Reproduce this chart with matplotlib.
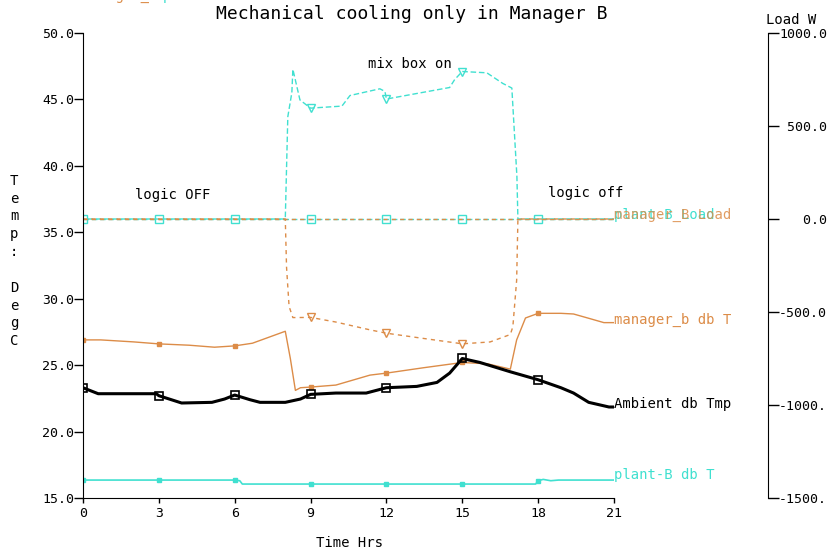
import numpy as np
import matplotlib
matplotlib.use("Agg")
from matplotlib import pyplot as plt

ORANGE = "#dc8c48"
CYAN = "#40e0d0"
MONO = "DejaVu Sans Mono"

# hours and temperatures (degC), left axis
amb_hrs = [0, 0.6, 2.9, 3, 3.9, 5.1, 5.6, 6, 6.6, 7.0, 8.0, 8.6, 9, 10.0, 11.2, 12,
           13.2, 14.0, 14.5, 15, 15.7, 16.9, 18, 18.9, 19.4, 20.0, 20.8, 21]
amb_temp = [23.3, 22.85, 22.85, 22.7, 22.15, 22.2, 22.45, 22.75, 22.4, 22.2, 22.2, 22.45,
            22.8, 22.9, 22.9, 23.3, 23.4, 23.7, 24.4, 25.5, 25.2, 24.5, 23.9, 23.3,
            22.9, 22.2, 21.85, 21.85]

mgr_hrs = [0, 0.7, 2.0, 3, 4.2, 5.2, 6, 6.7, 8.0, 8.2, 8.4, 8.6, 9, 10.0, 11.35, 12,
           13.45, 15, 16.0, 16.9, 17.15, 17.5, 18, 18.9, 19.4, 20.05, 20.6, 21]
mgr_temp = [26.9, 26.9, 26.75, 26.6, 26.5, 26.35, 26.45, 26.65, 27.55, 25.5, 23.1, 23.3,
            23.35, 23.5, 24.25, 24.4, 24.8, 25.2, 25.1, 24.7, 26.9, 28.55, 28.9, 28.9,
            28.85, 28.5, 28.2, 28.2]

plant_hrs = [0, 3, 6, 6.2, 6.3, 9, 12, 15, 17.9, 18, 18.2, 18.5, 18.8, 21]
plant_temp = [16.35, 16.35, 16.35, 16.3, 16.05, 16.05, 16.05, 16.05, 16.05, 16.3, 16.4,
              16.3, 16.35, 16.35]

# loads (W), right axis
pload_hrs = [0, 3, 6, 8.0, 8.1, 8.26, 8.3, 8.58, 9, 10.24, 10.56, 11.74, 11.94, 12,
             14.5, 14.7, 15, 15.97, 16.6, 16.96, 17.04, 17.16, 17.2, 18, 21]
pload = [0, 0, 0, 0, 550, 680, 805, 640, 596, 607, 664, 700, 686, 645, 707, 750, 793,
         786, 729, 704, 514, 229, 0, 0, 0]

mload_hrs = [0, 3, 6, 8.0, 8.05, 8.15, 8.3, 9, 10.0, 11.35, 12, 13.3, 15, 16.1, 16.9,
             17.0, 17.15, 17.2, 18, 21]
mload = [0, 0, 0, 0, -260, -470, -530, -529, -554, -596, -614, -639, -671, -661, -621,
         -579, -329, 0, 0, 0]

zero_hrs = [0, 3, 6, 9, 12, 15, 18, 21]
zero_load = [0, 0, 0, 0, 0, 0, 0, 0]

x_ticks = [0, 3, 6, 9, 12, 15, 18, 21]
t_ticks = [15, 20, 25, 30, 35, 40, 45, 50]
w_ticks = [1000, 500, 0, -500, -1000, -1500]
w_labels = ["1000.0", " 500.0", "   0.0", "-500.0", "-1000.", "-1500."]


def marks(hrs, at):
    return [i for i, h in enumerate(hrs) if h in at]


fig = plt.figure(figsize=(8.29, 5.55), dpi=100)
ax = fig.add_axes([83 / 829, 57 / 555, 531 / 829, 465 / 555])
ax2 = ax.twinx()

every3 = [0, 3, 6, 9, 12, 15, 18]

# load traces on the right axis
ax2.plot(zero_hrs, zero_load, color=CYAN, lw=1, ls=(0, (4, 2)), marker="s", ms=6,
         mfc="none", markevery=marks(zero_hrs, every3), zorder=2)
ax2.plot(pload_hrs, pload, color=CYAN, lw=1, ls=(3, (4, 2)), marker="v", ms=6,
         mfc="none", markevery=marks(pload_hrs, [9, 12, 15]), zorder=2)
ax2.plot(zero_hrs, zero_load, color=ORANGE, lw=1, ls=(0, (3, 3)), zorder=3)
ax2.plot(mload_hrs, mload, color=ORANGE, lw=1, ls=(0, (3, 3)), marker="v", ms=6,
         mfc="none", markevery=marks(mload_hrs, [9, 12, 15]), zorder=3)
ax2.set_ylim(-1500, 1000)

# temperatures on the left axis
ax.plot(mgr_hrs, mgr_temp, color=ORANGE, lw=1, marker="s", ms=3,
        markevery=marks(mgr_hrs, every3))
ax.plot(plant_hrs, plant_temp, color=CYAN, lw=1.2, marker="s", ms=3,
        markevery=marks(plant_hrs, every3))
ax.plot(amb_hrs, amb_temp, color="black", lw=2.2, marker="s", ms=6, mfc="none",
        mew=1.2, markevery=marks(amb_hrs, every3))
ax.set_zorder(ax2.get_zorder() + 1)
ax.patch.set_visible(False)

ax.set_xlim(0, 21)
ax.set_ylim(15, 50)
ax.set_xticks(x_ticks)
ax.set_xticklabels([str(h) for h in x_ticks], fontfamily=MONO, fontsize=9.5)
ax.set_yticks(t_ticks)
ax.set_yticklabels(["%.1f" % t for t in t_ticks], fontfamily=MONO, fontsize=9.5)
ax.tick_params(axis="y", direction="out", length=6.5, width=1, pad=0)
ax.tick_params(axis="x", direction="out", length=3.6, width=1, pad=3)
for s in ["top", "right"]:
    ax.spines[s].set_visible(False)

for s in ["top", "left", "bottom"]:
    ax2.spines[s].set_visible(False)
ax2.spines["right"].set_position(("axes", 685 / 531))
ax2.set_yticks(w_ticks)
ax2.set_yticklabels(w_labels, fontfamily=MONO, fontsize=9.5)
ax2.tick_params(axis="y", direction="out", length=8, width=1, pad=0)

# series labels at the right end
ax.text(21.0, 28.4, "manager_b db T", color=ORANGE, fontfamily=MONO, fontsize=10,
        va="center", ha="left")
ax.text(21.0, 22.1, "Ambient db Tmp", color="black", fontfamily=MONO, fontsize=10,
        va="center", ha="left")
ax.text(21.0, 16.7, "plant-B db T", color=CYAN, fontfamily=MONO, fontsize=10,
        va="center", ha="left")
ax.text(21.0, 36.3, "plant-B Load", color=CYAN, fontfamily=MONO, fontsize=10,
        va="center", ha="left")
ax.text(21.0, 36.3, "manager_B Load", color=ORANGE, fontfamily=MONO, fontsize=10,
        va="center", ha="left", alpha=0.85)

ax.text(3.56, 37.8, "logic OFF", fontfamily=MONO, fontsize=10, ha="center", va="center")
ax.text(12.93, 47.7, "mix box on", fontfamily=MONO, fontsize=10, ha="center", va="center")
ax.text(19.9, 37.95, "logic off", fontfamily=MONO, fontsize=10, ha="center", va="center")

fig.text(412 / 829, 1 - 14 / 555, "Mechanical cooling only in Manager B",
         fontfamily=MONO, fontsize=13, ha="center", va="center")
fig.text(350 / 829, 1 - 543 / 555, "Time Hrs", fontfamily=MONO, fontsize=10,
         ha="center", va="center")
fig.text(766 / 829, 1 - 20 / 555, "Load W", fontfamily=MONO, fontsize=10,
         ha="left", va="center")
fig.text(14 / 829, 1 - 261 / 555, "\n".join("Temp: DegC"), fontfamily=MONO,
         fontsize=10, ha="center", va="center", linespacing=1.35)

# legend strip, mostly cut off at the top edge
fig.text(23 / 829, 1 + 4 / 555, "Lend:", fontfamily=MONO, fontsize=10, va="center")
fig.text(82 / 829, 1 + 4 / 555, "manager_b", color=ORANGE, fontfamily=MONO,
         fontsize=10, va="center")
fig.text(163 / 829, 1 + 4 / 555, "plant-B", color=CYAN, fontfamily=MONO,
         fontsize=10, va="center")

fig.savefig("out.png", dpi=100)
